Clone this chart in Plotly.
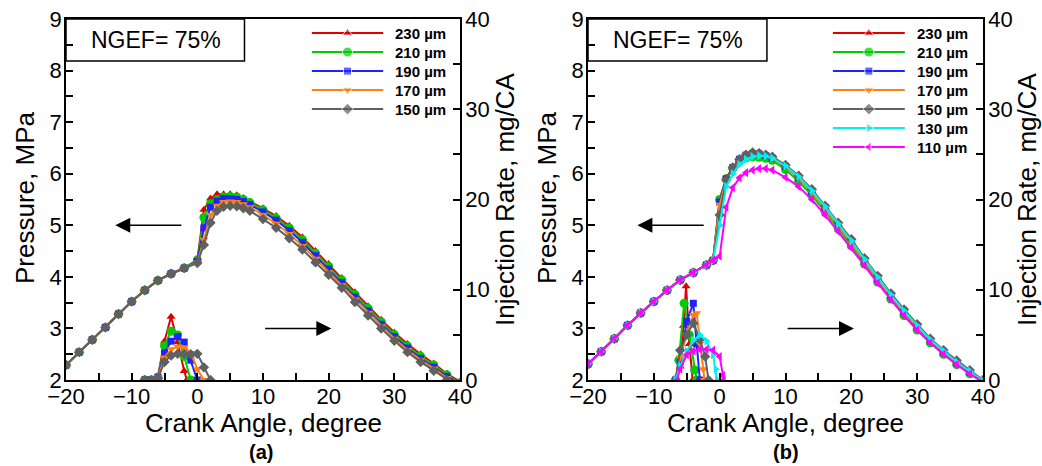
import plotly.graph_objects as go

# ---------------- data ----------------
labels_a = ["230 µm", "210 µm", "190 µm", "170 µm", "150 µm"]
labels_b = ["230 µm", "210 µm", "190 µm", "170 µm", "150 µm", "130 µm", "110 µm"]

# Panel (a) pressure
ca_p_a = [-20, -18, -16, -14, -12, -10, -8, -6, -4, -2, 0, 1, 2, 3, 4, 5, 6, 7, 8,
          10, 12, 14, 16, 18, 20, 22, 24, 26, 28, 30, 32, 34, 36, 38, 40]
base_a = [2.29, 2.54, 2.78, 3.02, 3.28, 3.52, 3.74, 3.93, 4.06, 4.17]
p_a_230 = base_a + [4.33, 5.30, 5.52, 5.60, 5.60, 5.60, 5.58, 5.53, 5.46, 5.33, 5.18, 4.99, 4.77, 4.50, 4.25, 3.98, 3.70, 3.43, 3.17, 2.92, 2.70, 2.50, 2.32, 2.12, 1.97]
p_a_210 = base_a + [4.33, 5.15, 5.42, 5.50, 5.55, 5.56, 5.55, 5.50, 5.44, 5.30, 5.14, 4.95, 4.72, 4.46, 4.20, 3.94, 3.66, 3.39, 3.13, 2.88, 2.66, 2.46, 2.29, 2.10, 1.94]
p_a_190 = base_a + [4.30, 4.95, 5.35, 5.47, 5.52, 5.52, 5.50, 5.46, 5.40, 5.26, 5.10, 4.90, 4.67, 4.41, 4.15, 3.89, 3.61, 3.34, 3.08, 2.84, 2.62, 2.42, 2.25, 2.07, 1.92]
p_a_170 = base_a + [4.28, 4.72, 5.20, 5.38, 5.45, 5.46, 5.45, 5.41, 5.35, 5.20, 5.03, 4.83, 4.60, 4.35, 4.09, 3.84, 3.56, 3.30, 3.04, 2.80, 2.58, 2.39, 2.22, 2.04, 1.89]
p_a_150 = base_a + [4.27, 4.62, 5.05, 5.28, 5.36, 5.38, 5.37, 5.33, 5.28, 5.12, 4.95, 4.75, 4.53, 4.28, 4.04, 3.79, 3.51, 3.25, 3.00, 2.76, 2.54, 2.35, 2.18, 2.00, 1.85]

# Panel (a) injection rate
ca_i_a_230 = [-8, -7, -6, -5, -4, -3, -2, -1.6]
r_a_230 = [0, 0, 0.4, 4.3, 7.0, 4.2, 1.0, 0]
ca_i_a_210 = [-8, -7, -6, -5, -4, -3, -2, -1]
r_a_210 = [0, 0, 0.3, 3.8, 5.4, 5.0, 2.6, 0]
ca_i_a_190 = [-8, -7, -6, -5, -4, -3, -2, -1, 0]
r_a_190 = [0, 0, 0.3, 3.0, 4.3, 4.8, 4.2, 2.2, 0]
ca_i_a_170 = [-8, -7, -6, -5, -4, -3, -2, -1, 0, 1]
r_a_170 = [0, 0, 0.3, 2.5, 3.4, 3.7, 3.6, 3.0, 1.2, 0]
ca_i_a_150 = [-8, -7, -6, -5, -4, -3, -2, -1, 0, 1, 2]
r_a_150 = [0, 0, 0.2, 2.0, 2.7, 2.9, 2.9, 2.85, 2.9, 1.4, 0]

# Panel (b) pressure
ca_p_b = [-20, -18, -16, -14, -12, -10, -8, -6, -4, -2, -1, 0, 1, 2, 3, 4, 5, 6, 7, 8,
          10, 12, 14, 16, 18, 20, 22, 24, 26, 28, 30, 32, 34, 36, 38, 40]
base_b = [2.31, 2.55, 2.80, 3.06, 3.30, 3.52, 3.74, 3.94, 4.08, 4.23, 4.32]
p_b_230 = base_b + [5.50, 5.92, 6.12, 6.27, 6.35, 6.39, 6.38, 6.35, 6.30, 6.15, 5.93, 5.66, 5.35, 5.02, 4.68, 4.32, 3.97, 3.63, 3.32, 3.03, 2.76, 2.54, 2.33, 2.15, 1.97]
p_b_210 = base_b + [5.50, 5.90, 6.10, 6.24, 6.31, 6.33, 6.32, 6.30, 6.26, 6.08, 5.85, 5.58, 5.27, 4.94, 4.60, 4.25, 3.90, 3.57, 3.25, 2.97, 2.72, 2.50, 2.30, 2.12, 1.95]
p_b_190 = base_b + [5.45, 5.90, 6.12, 6.28, 6.36, 6.39, 6.38, 6.35, 6.30, 6.14, 5.92, 5.65, 5.34, 5.01, 4.67, 4.31, 3.96, 3.62, 3.31, 3.02, 2.76, 2.54, 2.33, 2.15, 1.97]
p_b_170 = base_b + [5.40, 5.88, 6.10, 6.25, 6.33, 6.37, 6.37, 6.34, 6.29, 6.13, 5.91, 5.64, 5.33, 5.00, 4.66, 4.30, 3.95, 3.62, 3.31, 3.02, 2.76, 2.54, 2.33, 2.15, 1.97]
p_b_150 = base_b + [5.20, 5.88, 6.12, 6.28, 6.37, 6.41, 6.40, 6.37, 6.33, 6.17, 5.96, 5.70, 5.38, 5.05, 4.73, 4.36, 4.02, 3.68, 3.37, 3.08, 2.80, 2.58, 2.38, 2.19, 2.00]
p_b_130 = base_b + [5.00, 5.75, 6.00, 6.18, 6.28, 6.33, 6.35, 6.34, 6.30, 6.15, 5.94, 5.67, 5.36, 5.03, 4.70, 4.34, 3.99, 3.65, 3.34, 3.05, 2.78, 2.56, 2.35, 2.17, 1.98]
p_b_110 = base_b + [4.40, 5.35, 5.73, 5.92, 6.02, 6.07, 6.10, 6.10, 6.07, 5.93, 5.75, 5.50, 5.20, 4.88, 4.56, 4.22, 3.88, 3.56, 3.25, 2.97, 2.72, 2.50, 2.30, 2.12, 1.96]

# Panel (b) injection rate
ca_i_b_230 = [-6.6, -6, -5.5, -5.1, -4.6, -4.1]
r_b_230 = [0, 1.5, 6.0, 10.4, 4.0, 0]
ca_i_b_210 = [-6.7, -6.2, -5.4, -4.6, -3.8, -3.5]
r_b_210 = [0, 2.2, 8.5, 5.0, 1.1, 0]
ca_i_b_190 = [-6.7, -6, -5, -4, -3.5, -3]
r_b_190 = [0, 2.0, 6.5, 8.5, 4.0, 0]
ca_i_b_170 = [-6.7, -6, -5, -4, -3.5, -3, -2.5, -2.3]
r_b_170 = [0, 2.5, 5.0, 7.2, 7.4, 4.0, 1.2, 0]
ca_i_b_150 = [-6.7, -6, -5, -4, -3, -2.2, -1.7]
r_b_150 = [0, 3.3, 5.0, 6.3, 4.5, 2.6, 0]
ca_i_b_130 = [-6.7, -6, -5, -4, -3, -2, -1, -0.6, -0.4]
r_b_130 = [0, 1.5, 3.2, 4.4, 5.0, 4.3, 2.8, 1.2, 0]
ca_i_b_110 = [-6.5, -6, -5, -4, -3, -2, -1, 0, 0.5, 0.6]
r_b_110 = [0, 1.2, 2.8, 3.2, 3.4, 3.4, 3.3, 2.6, 0.5, 0]

# ---------------- styles ----------------
colors = {"230": "#e00000", "210": "#00cc00", "190": "#2222ff", "170": "#ff7f10",
          "150": "#606060", "130": "#00f0f0", "110": "#ff00ff"}
symbols = {"230": "triangle-up", "210": "circle", "190": "square", "170": "triangle-down",
           "150": "diamond", "130": "triangle-right", "110": "triangle-left"}
msizes = {"230": 8, "210": 9, "190": 7, "170": 8, "150": 8, "130": 8, "110": 8}
FONT = "Arial, Liberation Sans, sans-serif"

fig = go.Figure()


def add_series(key, x, y, xa, ya):
    fig.add_trace(go.Scatter(
        x=x, y=y, xaxis=xa, yaxis=ya, mode="lines+markers", showlegend=False,
        line=dict(color=colors[key], width=2),
        marker=dict(symbol=symbols[key], size=msizes[key], color=colors[key]),
    ))


pa = {"230": p_a_230, "210": p_a_210, "190": p_a_190, "170": p_a_170, "150": p_a_150}
ia = {"230": (ca_i_a_230, r_a_230), "210": (ca_i_a_210, r_a_210), "190": (ca_i_a_190, r_a_190),
      "170": (ca_i_a_170, r_a_170), "150": (ca_i_a_150, r_a_150)}
pb = {"230": p_b_230, "210": p_b_210, "190": p_b_190, "170": p_b_170, "150": p_b_150,
      "130": p_b_130, "110": p_b_110}
ib = {"230": (ca_i_b_230, r_b_230), "210": (ca_i_b_210, r_b_210), "190": (ca_i_b_190, r_b_190),
      "170": (ca_i_b_170, r_b_170), "150": (ca_i_b_150, r_b_150), "130": (ca_i_b_130, r_b_130),
      "110": (ca_i_b_110, r_b_110)}

for k in pa:
    add_series(k, ca_p_a, pa[k], "x", "y")
for k in ia:
    add_series(k, ia[k][0], ia[k][1], "x", "y2")
for k in pb:
    add_series(k, ca_p_b, pb[k], "x2", "y3")
for k in ib:
    add_series(k, ib[k][0], ib[k][1], "x2", "y4")

# ---------------- custom legends (line sample with centre marker) ----------------
leg_rows_px = 19.0
plot_h_px = 361.0


def add_legend(labels, xa, ya, xref, yref, x0, x1, xt, ytop):
    for i, lab in enumerate(labels):
        key = lab.split()[0]
        yy = ytop - i * leg_rows_px / plot_h_px
        fig.add_trace(go.Scatter(
            x=[x0, (x0 + x1) / 2, x1], y=[yy, yy, yy], xaxis=xa, yaxis=ya,
            mode="lines+markers", showlegend=False, hoverinfo="skip",
            line=dict(color=colors[key], width=2),
            marker=dict(symbol=symbols[key], size=[0, msizes[key] + 1, 0], color=colors[key]),
        ))
        fig.add_annotation(x=xt, y=yy, xref=xref, yref=yref, text="<b>%s</b>" % lab,
                           showarrow=False, xanchor="left", yanchor="middle",
                           font=dict(family=FONT, size=15, color="black"))


add_legend(labels_a, "x3", "y5", "x domain", "y domain", 0.624, 0.805, 0.83, 0.961)
add_legend(labels_b, "x4", "y6", "x2 domain", "y3 domain", 0.620, 0.802, 0.827, 0.961)

# ---------------- axes ----------------
dom_a = [66 / 1042, 460 / 1042]
dom_b = [588 / 1042, 983 / 1042]
dom_y = [1 - 380 / 466, 1 - 19 / 466]

tickfont = dict(family=FONT, size=22, color="black")
minor_common = dict(ticks="inside", ticklen=7, tickwidth=1.5, tickcolor="black")
xcommon = dict(range=[-20, 40], dtick=10, tick0=-20, ticks="inside", ticklen=7, tickwidth=1.5,
               tickcolor="black", showline=True, linecolor="black", linewidth=1.5, mirror=True,
               showgrid=False, zeroline=False, tickfont=tickfont, automargin=False,
               ticklabelstandoff=-4, minor=dict(dtick=5, **minor_common))
ycommon = dict(range=[2, 9], dtick=1, ticks="inside", ticklen=7, tickwidth=1.5, tickcolor="black",
               showline=True, linecolor="black", linewidth=1.5, showgrid=False, zeroline=False,
               tickfont=tickfont, automargin=False, ticklabelstandoff=-2,
               minor=dict(dtick=0.5, **minor_common))
y2common = dict(range=[0, 40], dtick=10, side="right", ticks="inside", ticklen=7, tickwidth=1.5,
                tickcolor="black", showline=True, linecolor="black", linewidth=1.5,
                showgrid=False, zeroline=False, tickfont=tickfont, automargin=False,
                ticklabelstandoff=-1, minor=dict(dtick=5, **minor_common))
hidden = dict(range=[0, 1], visible=False, automargin=False)

fig.update_layout(
    width=1042, height=466, margin=dict(l=0, r=0, t=0, b=0, autoexpand=False),
    paper_bgcolor="white", plot_bgcolor="white", showlegend=False,
    xaxis=dict(domain=dom_a, anchor="y", **xcommon),
    yaxis=dict(domain=dom_y, anchor="x", **ycommon),
    yaxis2=dict(overlaying="y", anchor="x", **y2common),
    xaxis2=dict(domain=dom_b, anchor="y3", **xcommon),
    yaxis3=dict(domain=dom_y, anchor="x2", **ycommon),
    yaxis4=dict(overlaying="y3", anchor="x2", **y2common),
    xaxis3=dict(overlaying="x", **hidden),
    yaxis5=dict(overlaying="y", **hidden),
    xaxis4=dict(overlaying="x2", **hidden),
    yaxis6=dict(overlaying="y3", **hidden),
)

# ---------------- text & decorations ----------------
titlefont = dict(family=FONT, size=26, color="black")
for cx in (25, 547):
    fig.add_annotation(x=cx / 1042, y=1 - 198 / 466, xref="paper", yref="paper", text="Pressure, MPa",
                       textangle=-90, showarrow=False, xanchor="center", yanchor="middle", font=titlefont)
for cx in (505, 1027):
    fig.add_annotation(x=cx / 1042, y=1 - 199 / 466, xref="paper", yref="paper",
                       text="Injection Rate, mg/CA", textangle=-90, showarrow=False,
                       xanchor="center", yanchor="middle", font=titlefont)
for cx in (263, 785):
    fig.add_annotation(x=cx / 1042, y=1 - 423 / 466, xref="paper", yref="paper",
                       text="Crank Angle, degree", showarrow=False, xanchor="center",
                       yanchor="middle", font=titlefont)
for cx, t in ((261, "(a)"), (786, "(b)")):
    fig.add_annotation(x=cx / 1042, y=1 - 452 / 466, xref="paper", yref="paper",
                       text="<b>%s</b>" % t, showarrow=False, xanchor="center",
                       yanchor="middle", font=dict(family=FONT, size=20, color="black"))

# NGEF boxes
for xd, yd in (("x domain", "y domain"), ("x2 domain", "y3 domain")):
    fig.add_shape(type="rect", xref=xd, yref=yd, x0=0, x1=0.453, y0=0.884, y1=1,
                  line=dict(color="black", width=1.5), fillcolor="white", layer="below")
    fig.add_annotation(x=0.228, y=0.942, xref=xd, yref=yd, text="NGEF= 75%", showarrow=False,
                       xanchor="center", yanchor="middle",
                       font=dict(family=FONT, size=23, color="black"))

# Arrows
for xa, ya in (("x", "y"), ("x2", "y3")):
    fig.add_annotation(x=-12.5, y=5.0, ax=-2.2, ay=5.0, xref=xa, yref=ya, axref=xa, ayref=ya,
                       showarrow=True, arrowhead=2, arrowsize=2, arrowwidth=1.5,
                       arrowcolor="black", text="")
    fig.add_annotation(x=20.4, y=3.0, ax=10.1, ay=3.0, xref=xa, yref=ya, axref=xa, ayref=ya,
                       showarrow=True, arrowhead=2, arrowsize=2, arrowwidth=1.5,
                       arrowcolor="black", text="")

fig.write_html("out.html")
